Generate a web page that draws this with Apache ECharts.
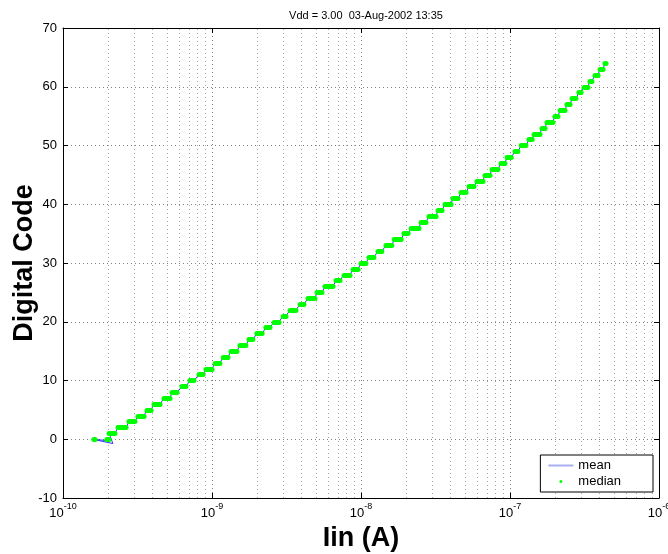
<!DOCTYPE html>
<html>
<head>
<meta charset="utf-8">
<script src="https://cdn.jsdelivr.net/npm/echarts@6/dist/echarts.min.js"></script>
<style>
  html, body { margin: 0; padding: 0; background: #fff; }
  #chart { width: 668px; height: 554px; }
</style>
</head>
<body>
<div id="chart"></div>
<script>
// median steps: [Iin start (A), Iin end (A), digital code]
var medianSteps = [
  [1.61e-10, 1.64e-10, 0], [1.97e-10, 2.04e-10, 0],
  [2.04e-10, 2.23e-10, 1], [2.34e-10, 2.65e-10, 2], [2.77e-10, 3.04e-10, 3],
  [3.19e-10, 3.50e-10, 4], [3.66e-10, 3.90e-10, 5], [4.08e-10, 4.48e-10, 6],
  [4.76e-10, 5.23e-10, 7], [5.39e-10, 5.82e-10, 8], [6.29e-10, 6.69e-10, 9],
  [7.12e-10, 7.57e-10, 10], [8.18e-10, 8.70e-10, 11], [9.11e-10, 1.00e-9, 12],
  [1.05e-9, 1.13e-9, 13], [1.19e-9, 1.28e-9, 14], [1.34e-9, 1.47e-9, 15],
  [1.54e-9, 1.69e-9, 16], [1.77e-9, 1.88e-9, 17], [2.00e-9, 2.17e-9, 18],
  [2.30e-9, 2.45e-9, 19], [2.61e-9, 2.82e-9, 20], [3.00e-9, 3.14e-9, 21],
  [3.34e-9, 3.66e-9, 22], [3.90e-9, 4.14e-9, 23], [4.41e-9, 4.91e-9, 24],
  [5.07e-9, 5.47e-9, 25], [5.73e-9, 6.49e-9, 26], [6.80e-9, 7.23e-9, 27],
  [7.69e-9, 8.44e-9, 28], [8.84e-9, 9.55e-9, 29], [1.00e-8, 1.08e-8, 30],
  [1.13e-8, 1.22e-8, 31], [1.30e-8, 1.38e-8, 32], [1.47e-8, 1.61e-8, 33],
  [1.67e-8, 1.86e-8, 34], [1.94e-8, 2.07e-8, 35], [2.17e-8, 2.45e-8, 36],
  [2.53e-8, 2.73e-8, 37], [2.86e-8, 3.19e-8, 38], [3.29e-8, 3.50e-8, 39],
  [3.66e-8, 4.02e-8, 40], [4.14e-8, 4.48e-8, 41], [4.69e-8, 5.07e-8, 42],
  [5.31e-8, 5.73e-8, 43], [6.00e-8, 6.59e-8, 44], [6.80e-8, 7.34e-8, 45],
  [7.57e-8, 8.31e-8, 46], [8.70e-8, 9.25e-8, 47], [9.55e-8, 1.02e-7, 48],
  [1.08e-7, 1.13e-7, 49], [1.19e-7, 1.28e-7, 50], [1.34e-7, 1.41e-7, 51],
  [1.45e-7, 1.59e-7, 52], [1.64e-7, 1.72e-7, 53], [1.77e-7, 1.94e-7, 54],
  [2.00e-7, 2.10e-7, 55], [2.17e-7, 2.34e-7, 56], [2.41e-7, 2.53e-7, 57],
  [2.61e-7, 2.77e-7, 58], [2.90e-7, 3.00e-7, 59], [3.14e-7, 3.34e-7, 60],
  [3.44e-7, 3.55e-7, 61], [3.72e-7, 3.90e-7, 62], [4.02e-7, 4.21e-7, 63],
  [4.34e-7, 4.41e-7, 64]
];
// mean at the bottom end (dips a little below zero)
var meanHead = [[2.01e-10, -0.24], [1.58e-10, 0], [2.16e-10, -0.73]];
var xTicks = [1e-10, 1e-9, 1e-8, 1e-7, 1e-6];
var yTicks = [-10, 0, 10, 20, 30, 40, 50, 60, 70];

var FONT = "'Liberation Sans', Arial, sans-serif";

// mean follows the steps, ramping between them
var meanData = meanHead.slice();
medianSteps.forEach(function (s) {
  if (s[2] > 0) {
    meanData.push([s[0], s[2]]);
    meanData.push([s[1], s[2]]);
  }
});

var medianLines = medianSteps.map(function (s) {
  return { coords: [[s[0], s[2]], [s[1], s[2]]] };
});

// minor log gridlines 2..9 in each decade
var yMin = yTicks[0], yMax = yTicks[yTicks.length - 1];
var minorGrid = [];
for (var d = 0; d < xTicks.length - 1; d++) {
  for (var m = 2; m <= 9; m++) {
    minorGrid.push({ coords: [[m * xTicks[d], yMin], [m * xTicks[d], yMax]] });
  }
}

var chart = echarts.init(document.getElementById('chart'));
chart.setOption({
  animation: false,
  backgroundColor: '#fff',
  title: {
    text: 'Vdd = 3.00  03-Aug-2002 13:35',
    left: 361,
    textAlign: 'center',
    top: 5,
    textStyle: { fontFamily: FONT, fontSize: 11, fontWeight: 'normal', color: '#000' }
  },
  grid: { left: 63, right: 9, top: 28, bottom: 56, outerBoundsMode: 'none', containLabel: false },
  legend: {
    orient: 'vertical',
    right: 15,
    bottom: 62,
    padding: [4, 32, 4, 8],
    itemGap: 3,
    itemWidth: 25,
    itemHeight: 3,
    itemTextGap: 7,
    backgroundColor: '#fff',
    borderColor: '#000',
    borderWidth: 1,
    borderRadius: 0,
    textStyle: { fontFamily: FONT, fontSize: 13, color: '#000' },
    data: [
      {
        name: 'mean', icon: 'path://M0,0H50V4H0Z',
        itemStyle: { color: '#a9aef2', borderWidth: 0 },
        lineStyle: { color: '#a9aef2' }
      },
      { name: 'median', icon: 'circle', itemStyle: { color: '#00ff00', borderWidth: 0 } }
    ]
  },
  xAxis: [{
    type: 'log',
    logBase: 10,
    min: 1e-10,
    max: 1e-6,
    name: 'Iin (A)',
    nameLocation: 'middle',
    nameGap: 27,
    nameMoveOverlap: false,
    nameTextStyle: { fontFamily: FONT, fontSize: 27, fontWeight: 'bold', color: '#000' },
    axisLine: { onZero: false, lineStyle: { color: '#000', width: 1 } },
    axisTick: { inside: true, length: 5, lineStyle: { color: '#000' } },
    axisLabel: {
      margin: 4,
      formatter: function (v) {
        return '{b|10}{s|' + Math.round(Math.log10(v)) + '}';
      },
      rich: {
        b: { fontFamily: FONT, fontSize: 13, color: '#000', lineHeight: 18, verticalAlign: 'bottom' },
        s: { fontFamily: FONT, fontSize: 9, color: '#000', lineHeight: 18, verticalAlign: 'top' }
      }
    },
    splitLine: { show: true, lineStyle: { color: '#808080', type: [1, 3], width: 1 } }
  }, {
    type: 'log',
    logBase: 10,
    min: 1e-10,
    max: 1e-6,
    position: 'top',
    axisLine: { onZero: false, lineStyle: { color: '#000', width: 1 } },
    axisTick: { inside: true, length: 5, lineStyle: { color: '#000' } },
    axisLabel: { show: false },
    splitLine: { show: false }
  }],
  yAxis: [{
    type: 'value',
    min: -10,
    max: 70,
    interval: 10,
    name: 'Digital Code',
    nameLocation: 'middle',
    nameGap: 25,
    nameMoveOverlap: false,
    nameTextStyle: { fontFamily: FONT, fontSize: 27, fontWeight: 'bold', color: '#000' },
    axisLine: { show: true, onZero: false, lineStyle: { color: '#000', width: 1 } },
    axisTick: { show: true, inside: true, length: 5, lineStyle: { color: '#000' } },
    axisLabel: { fontFamily: FONT, fontSize: 13, color: '#000', margin: 6 },
    splitLine: { show: true, lineStyle: { color: '#808080', type: [1, 3], width: 1 } }
  }, {
    type: 'value',
    min: -10,
    max: 70,
    interval: 10,
    position: 'right',
    axisLine: { show: true, onZero: false, lineStyle: { color: '#000', width: 1 } },
    axisTick: { show: true, inside: true, length: 5, lineStyle: { color: '#000' } },
    axisLabel: { show: false },
    splitLine: { show: false }
  }],
  series: [{
    name: 'minor grid',
    type: 'lines',
    coordinateSystem: 'cartesian2d',
    silent: true,
    data: minorGrid,
    lineStyle: { color: '#a8a8a8', type: [1, 3], width: 1, opacity: 1 },
    z: 1
  }, {
    name: 'mean',
    type: 'line',
    data: meanData,
    showSymbol: false,
    symbol: 'none',
    lineStyle: { color: '#3030ff', width: 1 },
    itemStyle: { color: '#3030ff' },
    z: 3
  }, {
    name: 'median',
    type: 'lines',
    coordinateSystem: 'cartesian2d',
    data: medianLines,
    lineStyle: { color: '#00ff00', width: 5, cap: 'round', opacity: 1 },
    itemStyle: { color: '#00ff00' },
    z: 4
  }]
});
</script>
</body>
</html>
